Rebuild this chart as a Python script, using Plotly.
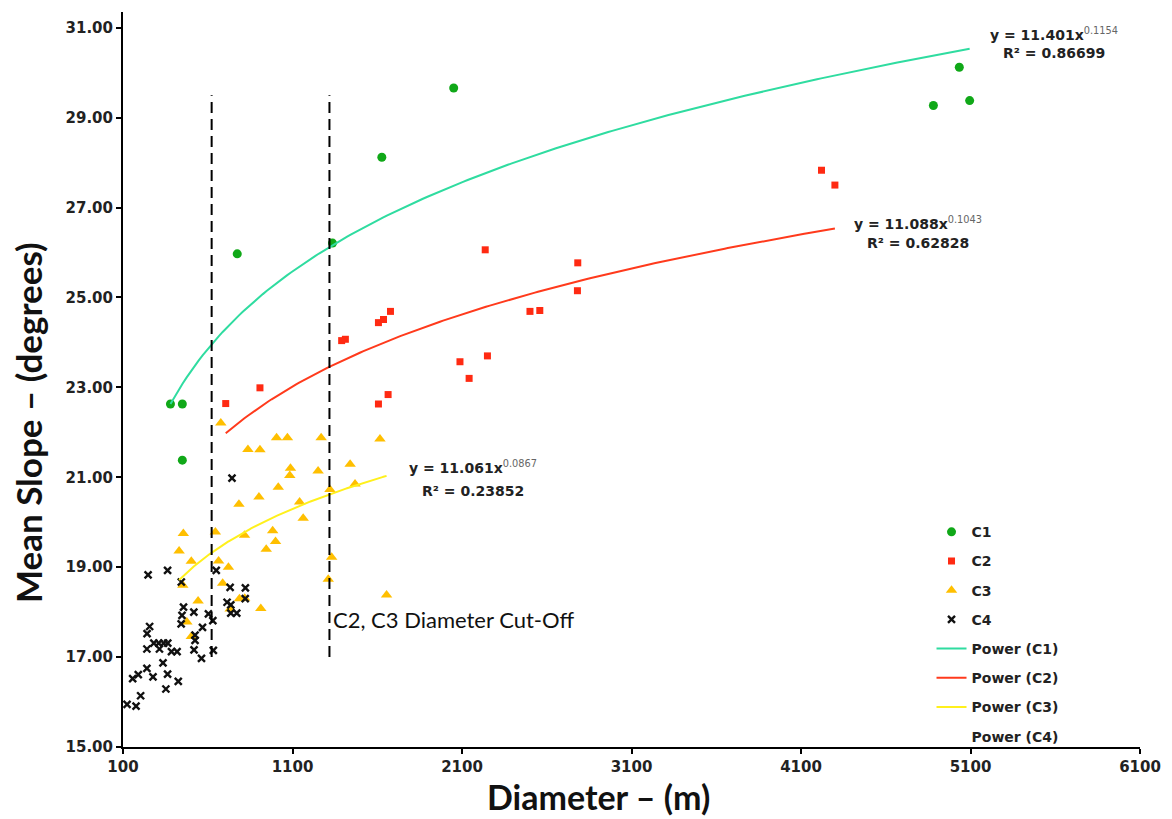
import numpy as np
import plotly.graph_objects as go

# ---------------- data ----------------
c1_x = [380, 450, 450, 774, 1336, 1627, 2051, 4881, 5034, 5095]
c1_y = [22.63, 22.63, 21.38, 25.97, 26.21, 28.12, 29.66, 29.27, 30.12, 29.38]

c2_x = [706, 908, 1390, 1412, 1607, 1637, 1678, 1607, 1664, 2088, 2142, 2250,
        2237, 2501, 2559, 2783, 2781, 4221, 4300]
c2_y = [22.64, 22.99, 24.04, 24.07, 24.44, 24.51, 24.69, 22.63, 22.84, 23.57,
        23.20, 23.70, 26.06, 24.69, 24.71, 25.77, 25.15, 27.83, 27.50]

c3_x = [677, 1006, 1070, 1269, 1616, 837, 908, 1088, 1084, 1251, 1440, 1016,
        1469, 902, 784, 1142, 1321, 1163, 983, 817, 1000, 945, 645, 456, 431,
        503, 664, 722, 1331, 1311, 688, 453, 1655, 543, 787, 818, 913, 477,
        503, 732]
c3_y = [22.21, 21.88, 21.88, 21.88, 21.85, 21.62, 21.61, 21.20, 21.04, 21.14,
        21.29, 20.78, 20.85, 20.56, 20.40, 20.45, 20.73, 20.09, 19.81, 19.71,
        19.57, 19.40, 19.78, 19.75, 19.36, 19.13, 19.14, 19.00, 19.22, 18.73,
        18.64, 18.60, 18.38, 18.25, 18.30, 18.31, 18.08, 17.78, 17.46, 18.07]

c4_x = [124, 177, 204, 157, 190, 241, 277, 353, 363, 426, 336, 241, 242, 257,
        282, 311, 340, 364, 315, 386, 419, 248, 363, 444, 457, 448, 443, 518,
        604, 630, 569, 525, 525, 519, 563, 633, 650, 732, 822, 714, 736, 821,
        736, 771, 743]
c4_y = [15.95, 15.91, 16.14, 16.52, 16.61, 16.75, 16.56, 16.29, 16.62, 16.46,
        16.87, 17.18, 17.52, 17.68, 17.31, 17.31, 17.31, 17.31, 17.18, 17.12,
        17.12, 18.83, 18.93, 18.67, 18.11, 17.93, 17.74, 18.00, 17.96, 17.81,
        17.66, 17.49, 17.37, 17.16, 16.97, 17.15, 18.93, 18.55, 18.54, 18.22,
        18.16, 18.30, 17.98, 17.98, 20.98]

# power fits (Excel trendlines): y = a * x^b
fit_a = {"C1": 11.401, "C2": 11.088, "C3": 11.061}
fit_b = {"C1": 0.1154, "C2": 0.1043, "C3": 0.0867}
fit_r2 = {"C1": "0.86699", "C2": "0.62828", "C3": "0.23852"}

cutoff_x = [623, 1318]
cutoff_y = [17.0, 29.5]

x_ticks = [100, 1100, 2100, 3100, 4100, 5100, 6100]
y_ticks = [15, 17, 19, 21, 23, 25, 27, 29, 31]

# ---------------- figure ----------------
fig = go.Figure()

def add(tr, g):
    tr.legendgroup = g
    fig.add_trace(tr)

add(go.Scatter(x=c1_x, y=c1_y, mode="markers", name="C1",
               marker=dict(symbol="circle", size=9, color="#10a818")), "g1")
add(go.Scatter(x=c2_x, y=c2_y, mode="markers", name="C2",
               marker=dict(symbol="square", size=7, color="#ff2a12")), "g2")
add(go.Scatter(x=c3_x, y=c3_y, mode="markers", name="C3",
               marker=dict(symbol="triangle-up", size=10, color="#ffbf00")), "g3")
add(go.Scatter(x=c4_x, y=c4_y, mode="markers", name="C4",
               marker=dict(symbol="x-thin", size=7, color="#111111",
                           line=dict(width=2.4, color="#111111"))), "g4")

fit_colors = {"C1": "#2fdca0", "C2": "#ff3a1c", "C3": "#fff01c"}
series = {"C1": c1_x, "C2": c2_x, "C3": c3_x}
for i, k in enumerate(["C1", "C2", "C3"]):
    xs = np.linspace(min(series[k]), max(series[k]), 200)
    ys = fit_a[k] * xs ** fit_b[k]
    add(go.Scatter(x=xs, y=ys, mode="lines", name=f"Power ({k})",
                   line=dict(color=fit_colors[k], width=2)), f"g{5+i}")
add(go.Scatter(x=[None], y=[None], mode="lines", name="Power (C4)",
               line=dict(color="rgba(0,0,0,0)", width=2)), "g8")

# cut-off dashed lines
for cx in cutoff_x:
    fig.add_shape(type="line", x0=cx, x1=cx, y0=cutoff_y[0], y1=cutoff_y[1],
                  xref="x", yref="y",
                  line=dict(color="black", width=2, dash="11px,6px"))

eq_font = dict(family="DejaVu Sans", size=14, color="#222222", weight="bold")
eq_pos = {"C1": (5594, 30.87, 30.43), "C2": (4790, 26.65, 26.21),
          "C3": (2163, 21.23, 20.69)}
for k, (ex, ey1, ey2) in eq_pos.items():
    fig.add_annotation(x=ex, y=ey1, xref="x", yref="y", showarrow=False,
                       text=f"y = {fit_a[k]:.3f}x<span style='font-weight:normal;color:#666'><sup>{fit_b[k]:.4f}</sup></span>",
                       font=eq_font, xanchor="center", yanchor="middle")
    fig.add_annotation(x=ex, y=ey2, xref="x", yref="y", showarrow=False,
                       text=f"R² = {fit_r2[k]}", font=eq_font,
                       xanchor="center", yanchor="middle")

fig.add_annotation(x=1330, y=17.83, xref="x", yref="y", showarrow=False,
                   text="C2, C3 Diameter Cut-Off", xanchor="left", yanchor="middle",
                   font=dict(family="Lato", size=22, color="#111111"))

fig.add_annotation(x=0.468, y=-0.0675, xref="paper", yref="paper", showarrow=False,
                   text="Diameter – (m)", xanchor="center", yanchor="middle",
                   font=dict(family="Lato", size=34, color="#111111", weight="bold"))
fig.add_annotation(x=-0.0932, y=0.441, xref="paper", yref="paper", showarrow=False,
                   text="Mean Slope – (degrees)", textangle=-90,
                   xanchor="center", yanchor="middle",
                   font=dict(family="Lato", size=35, color="#111111", weight="bold"))

tick_font = dict(family="DejaVu Sans", size=15, color="#222222", weight="bold")
fig.update_xaxes(range=[100, 6100], tickvals=x_ticks,
                 ticktext=[str(v) for v in x_ticks],
                 showline=True, linecolor="black", linewidth=2,
                 ticks="outside", ticklen=5, tickwidth=2, tickcolor="black",
                 showgrid=False, zeroline=False, tickfont=tick_font)
fig.update_yaxes(range=[15, 31.35], tickvals=y_ticks,
                 ticktext=[f"{v:.2f}" for v in y_ticks],
                 showline=True, linecolor="black", linewidth=2,
                 ticks="outside", ticklen=5, tickwidth=2, tickcolor="black",
                 showgrid=False, zeroline=False, tickfont=tick_font)

fig.update_layout(
    width=1172, height=819,
    margin=dict(l=123, r=26, t=11.5, b=71.7),
    plot_bgcolor="white", paper_bgcolor="white",
    showlegend=True,
    legend=dict(x=0.795, y=0.314, xanchor="left", yanchor="top",
                bgcolor="rgba(0,0,0,0)", tracegroupgap=8,
                font=dict(family="DejaVu Sans", size=14, color="#222222",
                          weight="bold")),
)

fig.write_html("out.html")
